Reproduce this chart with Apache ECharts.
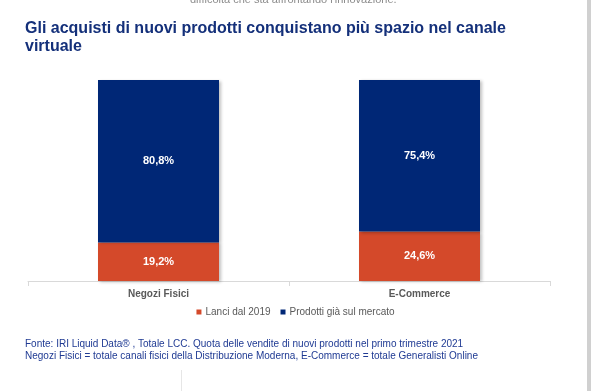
<!DOCTYPE html>
<html>
<head>
<meta charset="utf-8">
<script src="https://cdn.jsdelivr.net/npm/echarts@6/dist/echarts.min.js"></script>
<style>
html,body{margin:0;padding:0;background:#fff;}
#c{width:591px;height:391px;}
</style>
</head>
<body>
<div id="c"></div>
<script>
const categories = ['Negozi Fisici', 'E-Commerce'];
const lanci = [19.2, 24.6];
const prodotti = [80.8, 75.4];
const seriesNames = ['Lanci dal 2019', 'Prodotti già sul mercato'];
const titleLines = ['Gli acquisti di nuovi prodotti conquistano più spazio nel canale', 'virtuale'];
const noteLines = ['Fonte: IRI Liquid Data® , Totale LCC. Quota delle vendite di nuovi prodotti nel primo trimestre 2021',
  'Negozi Fisici = totale canali fisici della Distribuzione Moderna, E-Commerce = totale Generalisti Online'];
const topText = 'difficoltà che sta affrontando l\'innovazione.';

const fmt = v => v.toFixed(1).replace('.', ',') + '%';
const chart = echarts.init(document.getElementById('c'));
const FONT = '"Liberation Sans", Arial, sans-serif';
const barShadow = {shadowColor: 'rgba(0,0,0,0.25)', shadowBlur: 3, shadowOffsetX: 2, shadowOffsetY: 1};
chart.setOption({
  animation: false,
  backgroundColor: '#fff',
  textStyle: {fontFamily: FONT},
  grid: {left: 28, right: 41, top: 80, bottom: 110},
  legend: {
    top: 302, left: 'center', itemWidth: 5, itemHeight: 5, itemGap: 10,
    icon: 'rect',
    textStyle: {fontSize: 10, color: '#595959', fontFamily: FONT, padding: [0, 0, 0, -1]},
    data: seriesNames
  },
  xAxis: {
    type: 'category', data: categories,
    axisLine: {lineStyle: {color: '#d9d9d9'}},
    axisTick: {show: true, length: 5, lineStyle: {color: '#d9d9d9'}},
    axisLabel: {fontSize: 10, fontWeight: 'bold', color: '#595959', margin: 8, fontFamily: FONT}
  },
  yAxis: {type: 'value', min: 0, max: 100, show: false, splitLine: {show: false}},
  series: [
    {
      name: seriesNames[0], type: 'bar', stack: 's', data: lanci, barWidth: 121,
      itemStyle: Object.assign({color: '#d4492a'}, barShadow),
      label: {show: true, position: 'inside', color: '#fff', fontWeight: 'bold', fontSize: 11, fontFamily: FONT, formatter: p => fmt(p.value)}
    },
    {
      name: seriesNames[1], type: 'bar', stack: 's', data: prodotti, barWidth: 121,
      itemStyle: Object.assign({color: '#002776'}, barShadow),
      label: {show: true, position: 'inside', color: '#fff', fontWeight: 'bold', fontSize: 11, fontFamily: FONT, formatter: p => fmt(p.value)}
    }
  ],
  graphic: [
    {type: 'text', left: 190, top: -6, style: {text: topText, fontSize: 11, fill: '#8c8c8c', fontFamily: FONT}},
    {type: 'text', left: 25, top: 20, style: {text: titleLines.join('\n'), fontSize: 16, fontWeight: 'bold', fill: '#14307a', lineHeight: 18, fontFamily: FONT}},
    {type: 'text', left: 25, top: 338, style: {text: noteLines.join('\n'), fontSize: 10, fill: '#1f3a93', lineHeight: 12, fontFamily: FONT}},
    {type: 'rect', shape: {x: 587, y: 0, width: 4, height: 391}, style: {fill: '#d0d0d0'}},
    {type: 'line', shape: {x1: 181.5, y1: 370, x2: 181.5, y2: 391}, style: {stroke: '#e6e6e6', lineWidth: 1}}
  ]
});
</script>
</body>
</html>
